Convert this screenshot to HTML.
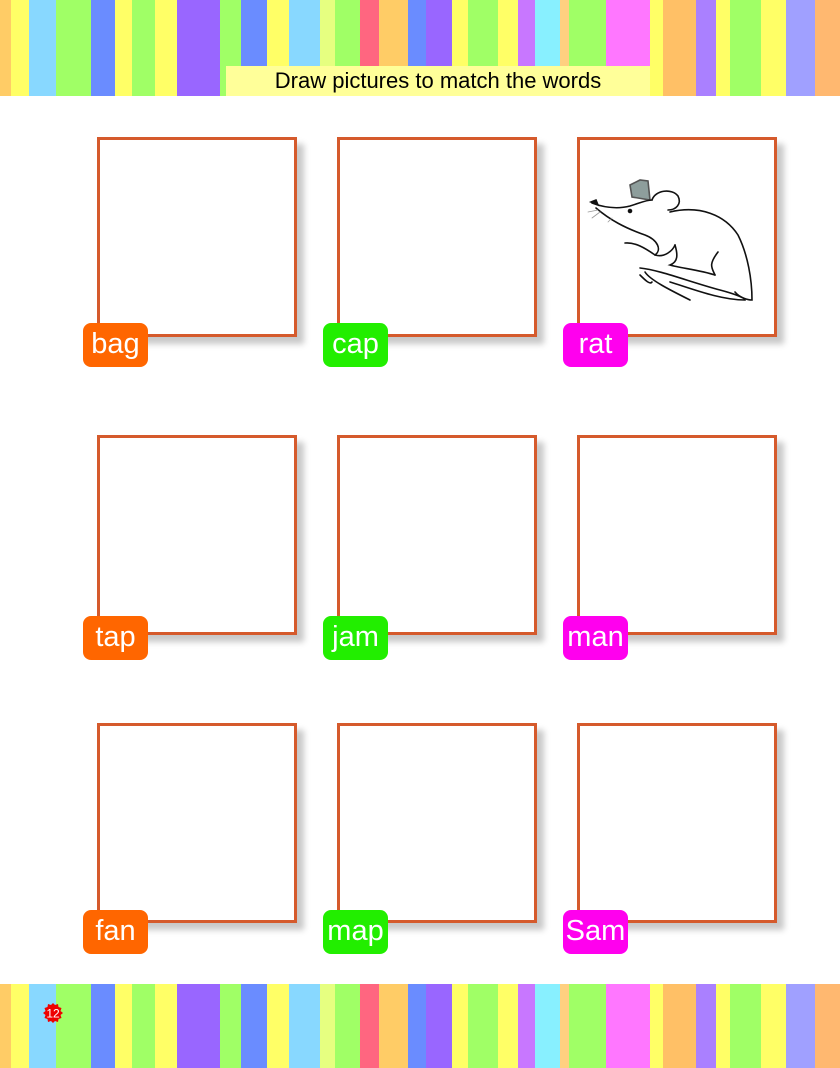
<!DOCTYPE html>
<html><head><meta charset="utf-8"><style>
body{margin:0;width:840px;height:1068px;position:relative;background:#fff;font-family:"Liberation Sans",sans-serif;overflow:hidden}
.band{position:absolute;left:0;width:840px;display:flex}
.band div{height:100%}
.box{position:absolute;width:194px;height:194px;border:3px solid #d55a2c;background:#fff;box-shadow:7px 7px 6px #c8c8c8}
.lab{position:absolute;width:65px;height:44px;border-radius:8px;color:#fff;font-size:29px;line-height:42px;text-align:center}
.o{background:#ff6600}.g{background:#22ee00}.m{background:#ff00ee}
</style></head><body>
<div class="band" id="t" style="top:0;height:96px"></div>
<div class="band" id="b" style="top:984px;height:84px"></div>
<div style="position:absolute;left:226px;top:66px;width:424px;height:30px;background:#ffff99;font-size:22px;line-height:30px;text-align:center;color:#000">Draw pictures to match the words</div>

<div class="box" style="left:97px;top:137px"></div>
<div class="box" style="left:337px;top:137px"></div>
<div class="box" style="left:577px;top:137px">
<svg width="194" height="194" viewBox="580 140 194 194" style="position:absolute;left:0;top:0" fill="none" stroke="#111" stroke-width="1.6" stroke-linecap="round">
<path d="M632 197 L630 185 L640 180 L648 181 L650 200 Z" fill="#8e9e9c" stroke="#555"/>
<path d="M652 200 C655 190 672 188 678 196 C682 204 676 210 668 210"/>
<path d="M592 203 C600 206 615 210 630 206 C640 203 646 200 652 200"/>
<path d="M670 212 C700 205 725 215 738 235 C748 255 752 280 752 300 C748 300 740 298 735 292"/>
<path d="M596 208 C610 220 625 228 645 235 C658 240 662 250 655 255"/>
<path d="M625 243 C635 242 645 248 655 255 C665 258 673 250 675 245"/>
<path d="M675 245 C678 255 678 262 670 265 C680 268 700 270 715 275"/>
<path d="M715 275 C712 268 708 265 718 252"/>
<path d="M640 268 C660 270 690 282 720 290 C735 294 745 298 745 300 C720 300 690 288 670 282"/>
<path d="M645 272 C650 280 670 290 690 300"/>
<path d="M640 275 C645 280 650 285 652 282"/>
<circle cx="630" cy="211" r="1.5" fill="#111"/>
<path d="M591 202 l5 -2 l2 5 z" fill="#111"/>
<path d="M598 210 l-10 2 M600 212 l-8 6 M612 218 l-4 4" stroke="#999" stroke-width="0.8"/>
</svg></div>
<div class="box" style="left:97px;top:435px"></div>
<div class="box" style="left:337px;top:435px"></div>
<div class="box" style="left:577px;top:435px"></div>
<div class="box" style="left:97px;top:723px"></div>
<div class="box" style="left:337px;top:723px"></div>
<div class="box" style="left:577px;top:723px"></div>

<div class="lab o" style="left:83px;top:323px">bag</div>
<div class="lab g" style="left:323px;top:323px">cap</div>
<div class="lab m" style="left:563px;top:323px">rat</div>
<div class="lab o" style="left:83px;top:616px">tap</div>
<div class="lab g" style="left:323px;top:616px">jam</div>
<div class="lab m" style="left:563px;top:616px">man</div>
<div class="lab o" style="left:83px;top:910px">fan</div>
<div class="lab g" style="left:323px;top:910px">map</div>
<div class="lab m" style="left:563px;top:910px">Sam</div>

<svg style="position:absolute;left:42px;top:1002px" width="22" height="22" viewBox="-11 -11 22 22">
<polygon fill="#ee0000" points="0,-10 2,-8 5,-9 5.5,-6 8.5,-5 7.5,-2 10,0 7.5,2 8.5,5 5.5,6 5,9 2,8 0,10 -2,8 -5,9 -5.5,6 -8.5,5 -7.5,2 -10,0 -7.5,-2 -8.5,-5 -5.5,-6 -5,-9 -2,-8"/>
<text x="0" y="4.5" fill="#fff" font-size="12" text-anchor="middle" font-family="Liberation Sans">12</text>
</svg>
<script>
var s=[[0,11,'#ffcc66'],[11,29,'#ffff66'],[29,56,'#88d8ff'],[56,91,'#a0ff66'],[91,115,'#6a8cff'],[115,132,'#ffff66'],[132,155,'#a0ff66'],[155,177,'#ffff66'],[177,220,'#9966ff'],[220,241,'#a0ff66'],[241,267,'#6a8cff'],[267,289,'#ffff66'],[289,320,'#88d8ff'],[320,335,'#e6ff80'],[335,360,'#a0ff66'],[360,379,'#ff6680'],[379,408,'#ffcc66'],[408,426,'#6a8cff'],[426,452,'#9966ff'],[452,468,'#ffff66'],[468,498,'#a0ff66'],[498,518,'#ffff66'],[518,535,'#c877ff'],[535,560,'#88f0ff'],[560,569,'#ffd080'],[569,606,'#a0ff66'],[606,650,'#ff77ff'],[650,663,'#ffff66'],[663,696,'#ffc066'],[696,716,'#aa80ff'],[716,730,'#ffff66'],[730,761,'#a0ff66'],[761,786,'#ffff66'],[786,815,'#a0a0ff'],[815,840,'#ffb870']];
['t','b'].forEach(function(id){var e=document.getElementById(id);s.forEach(function(a){var d=document.createElement('div');d.style.width=(a[1]-a[0])+'px';d.style.background=a[2];e.appendChild(d);});});
</script>
</body></html>
